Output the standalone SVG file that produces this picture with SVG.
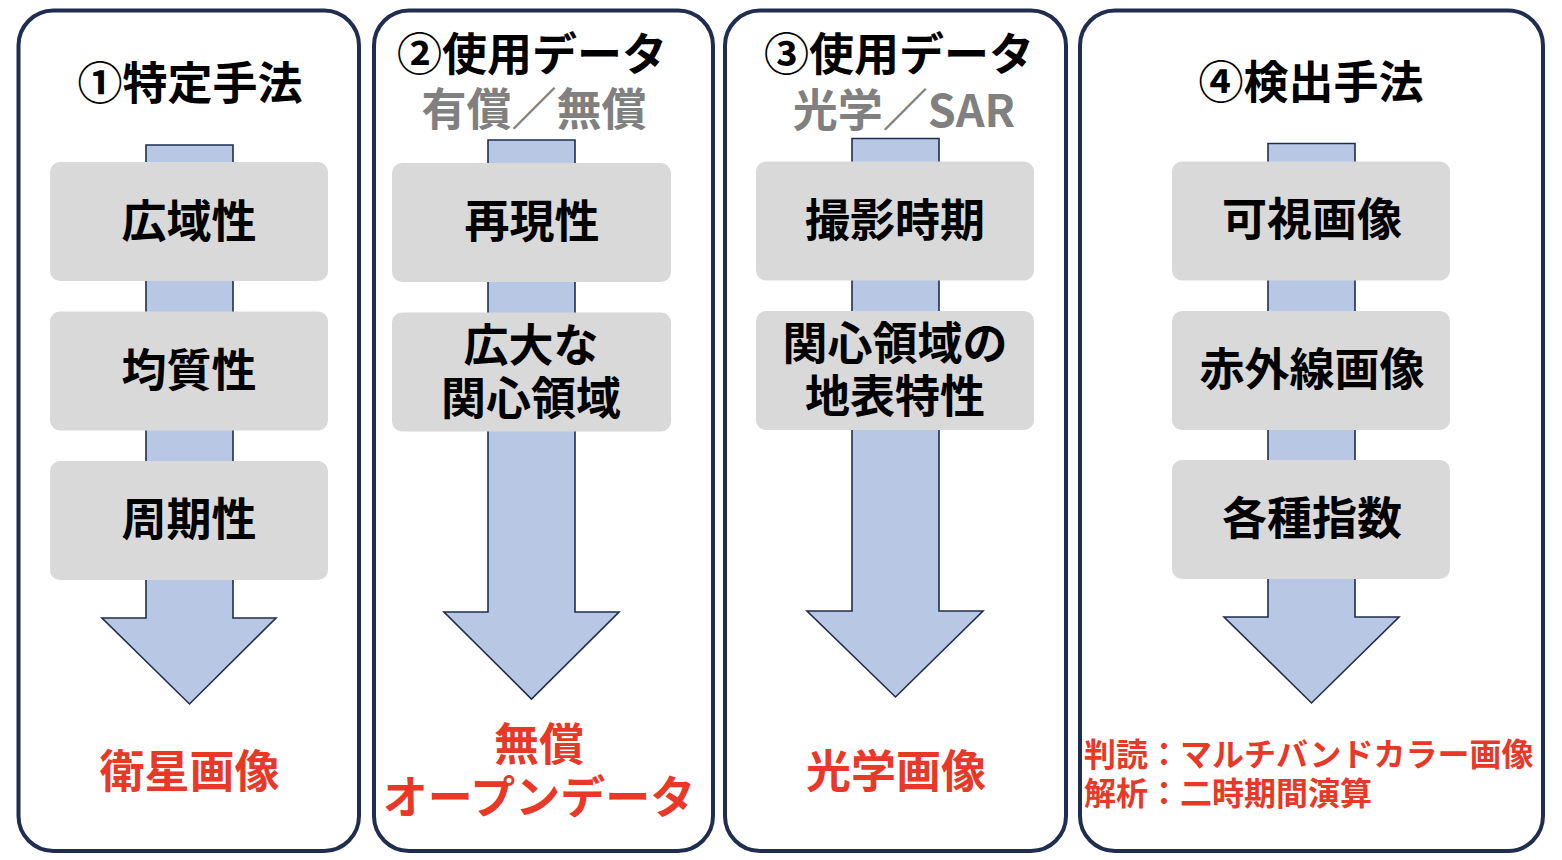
<svg xmlns="http://www.w3.org/2000/svg" width="1562" height="860" viewBox="0 0 1562 860">
<style>
.frame{fill:#ffffff;stroke:#1f2d50;stroke-width:4}
.arrow{fill:#b8c8e4;stroke:#1f2d50;stroke-width:1.6;stroke-linejoin:miter}
.box{fill:#d9d9d9}
text{font-family:"Noto Sans CJK JP","Noto Sans",sans-serif;font-weight:700;dominant-baseline:central;text-anchor:middle}
.t{font-size:45px;fill:#000000}
.sub{font-size:45px;fill:#808080}
.lbl{font-size:45px;fill:#000000}
.out{font-size:45px;fill:#e83828}
.out2{font-size:32px;fill:#e83828;text-anchor:start}
</style>
<rect width="1562" height="860" fill="#ffffff"/>
<g id="panels">
<g id="panel1"><rect class="frame" x="18.5" y="10.5" width="340.5" height="840.5" rx="35"/><text class="t" x="190" y="80">①特定手法</text></g>
<g id="panel2"><rect class="frame" x="374" y="10.5" width="339" height="840.5" rx="35"/><text class="t" x="532" y="51">②使用データ</text><text class="sub" x="534" y="106">有償／無償</text></g>
<g id="panel3"><rect class="frame" x="725" y="10.5" width="341" height="840.5" rx="35"/><text class="t" x="899" y="51">③使用データ</text><text class="sub" x="904" y="107">光学／SAR</text></g>
<g id="panel4"><rect class="frame" x="1080" y="10.5" width="463" height="840.5" rx="35"/><text class="t" x="1311" y="79">④検出手法</text></g>
</g>
<g id="connectors">
<path class="arrow" d="M146,145 H233 V618 H276 L189.5,704 L102,618 H146 Z"/>
<path class="arrow" d="M488,140 H575 V612 H619 L531.5,699 L444,612 H488 Z"/>
<path class="arrow" d="M852,138.5 H939 V611 H983 L895.5,697 L807,611 H852 Z"/>
<path class="arrow" d="M1268,143.5 H1355 V617 H1399 L1311.5,703 L1224,617 H1268 Z"/>
</g>
<g id="p1-box1"><rect class="box" x="50" y="162" width="278" height="119" rx="10"/><text class="lbl" x="189" y="218">広域性</text></g>
<g id="p1-box2"><rect class="box" x="50" y="311.5" width="278" height="119" rx="10"/><text class="lbl" x="189" y="367">均質性</text></g>
<g id="p1-box3"><rect class="box" x="50" y="461" width="278" height="119" rx="10"/><text class="lbl" x="189" y="516">周期性</text></g>
<g id="p2-box1"><rect class="box" x="392" y="163" width="279" height="119" rx="10"/><text class="lbl" x="532" y="218">再現性</text></g>
<g id="p2-box2"><rect class="box" x="392" y="312.5" width="279" height="119" rx="10"/><text class="lbl" x="531" y="342">広大な</text><text class="lbl" x="531" y="395">関心領域</text></g>
<g id="p3-box1"><rect class="box" x="756" y="161.5" width="278" height="119" rx="10"/><text class="lbl" x="895" y="217">撮影時期</text></g>
<g id="p3-box2"><rect class="box" x="756" y="311" width="278" height="119" rx="10"/><text class="lbl" x="895" y="340">関心領域の</text><text class="lbl" x="895" y="393">地表特性</text></g>
<g id="p4-box1"><rect class="box" x="1172" y="161.5" width="278" height="119" rx="10"/><text class="lbl" x="1312" y="216">可視画像</text></g>
<g id="p4-box2"><rect class="box" x="1172" y="311" width="278" height="119" rx="10"/><text class="lbl" x="1312" y="366">赤外線画像</text></g>
<g id="p4-box3"><rect class="box" x="1172" y="460" width="278" height="119" rx="10"/><text class="lbl" x="1312" y="515">各種指数</text></g>
<g id="p1-out"><text class="out" x="189.5" y="768">衛星画像</text></g>
<g id="p2-out"><text class="out" x="539" y="741">無償</text><text class="out" x="539" y="794">オープンデータ</text></g>
<g id="p3-out"><text class="out" x="896" y="768">光学画像</text></g>
<g id="p4-out"><text class="out2" x="1084" y="752">判読：マルチバンドカラー画像</text><text class="out2" x="1084" y="791">解析：二時期間演算</text></g>
</svg>
